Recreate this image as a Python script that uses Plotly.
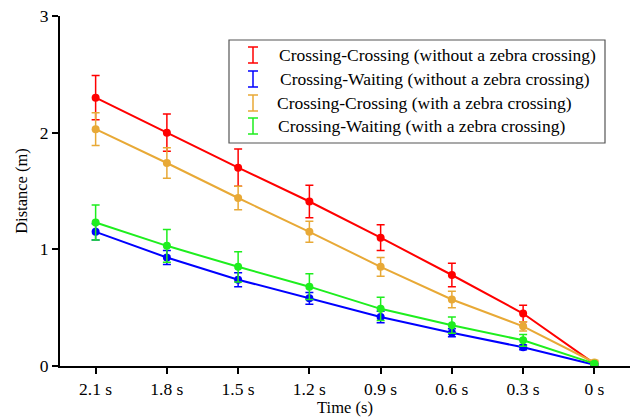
import plotly.graph_objects as go

# Time before the conflict point (categorical x axis)
times = ["2.1 s", "1.8 s", "1.5 s", "1.2 s", "0.9 s", "0.6 s", "0.3 s", "0 s"]

# Mean distance (m) and error (m) for each condition
cc_without = [2.30, 2.00, 1.70, 1.41, 1.10, 0.78, 0.45, 0.02]
cc_without_err = [0.19, 0.16, 0.16, 0.14, 0.11, 0.10, 0.07, 0.02]

cw_without = [1.15, 0.93, 0.74, 0.58, 0.42, 0.285, 0.16, 0.01]
cw_without_err = [0.07, 0.06, 0.06, 0.05, 0.05, 0.035, 0.02, 0.01]

cc_with = [2.03, 1.74, 1.44, 1.15, 0.85, 0.57, 0.34, 0.03]
cc_with_err = [0.14, 0.13, 0.10, 0.09, 0.08, 0.07, 0.04, 0.02]

cw_with = [1.23, 1.03, 0.85, 0.68, 0.49, 0.35, 0.22, 0.02]
cw_with_err = [0.15, 0.14, 0.13, 0.11, 0.10, 0.07, 0.05, 0.01]

names = [
    "Crossing-Crossing (without a zebra crossing)",
    "Crossing-Waiting (without a zebra crossing)",
    "Crossing-Crossing (with a zebra crossing)",
    "Crossing-Waiting (with a zebra crossing)",
]
colors = ["#FF0000", "#0000FF", "#E8A936", "#1EEE1E"]
series = [
    (cc_without, cc_without_err),
    (cw_without, cw_without_err),
    (cc_with, cc_with_err),
    (cw_with, cw_with_err),
]

FONT = "Liberation Serif, Times New Roman, serif"
W, H = 633, 417
ML, MR, MT, MB = 60, 3, 16, 51
PW, PH = W - ML - MR, H - MT - MB

fig = go.Figure()
for (vals, errs), name, col in zip(series, names, colors):
    fig.add_trace(go.Scatter(
        x=times, y=vals, name=name, mode="lines+markers",
        line=dict(color=col, width=2),
        marker=dict(color=col, size=8),
        error_y=dict(type="data", array=errs, visible=True,
                     color=col, thickness=1.5, width=4),
        showlegend=False,
    ))


def px_x(p):
    return (p - ML) / PW


def px_y(p):
    return (H - MB - p) / PH


# Hand-drawn legend box with error-bar glyphs
shapes = [dict(type="rect", xref="paper", yref="paper",
               x0=px_x(229), x1=px_x(605), y0=px_y(143), y1=px_y(40),
               line=dict(color="#555555", width=1.2), fillcolor="white")]
annotations = []
row_y = [55, 79, 103, 126]
text_x = [277, 278, 275, 276]
gx, hw, hh = 253, 5, 8
for ry, tx, name, col in zip(row_y, text_x, names, colors):
    shapes.append(dict(type="line", xref="paper", yref="paper",
                       x0=px_x(gx), x1=px_x(gx), y0=px_y(ry - hh), y1=px_y(ry + hh),
                       line=dict(color=col, width=1.5)))
    for cy in (ry - hh, ry + hh):
        shapes.append(dict(type="line", xref="paper", yref="paper",
                           x0=px_x(gx - hw), x1=px_x(gx + hw), y0=px_y(cy), y1=px_y(cy),
                           line=dict(color=col, width=1.5)))
    annotations.append(dict(xref="paper", yref="paper", x=px_x(tx), y=px_y(ry),
                            text=name, showarrow=False, xanchor="left", yanchor="middle",
                            font=dict(family=FONT, size=17.5, color="black")))

fig.update_layout(
    width=W, height=H,
    margin=dict(l=ML, r=MR, t=MT, b=MB),
    paper_bgcolor="white", plot_bgcolor="white",
    font=dict(family=FONT, size=17, color="black"),
    shapes=shapes, annotations=annotations,
    xaxis=dict(
        type="category", range=[-0.5, 7.5],
        showgrid=False, zeroline=False,
        showline=True, linecolor="black", linewidth=2,
        ticks="outside", ticklen=6, tickwidth=2, tickcolor="black",
        tickfont=dict(family=FONT, size=17.5),
        title=dict(text="Time (s)", font=dict(family=FONT, size=16.5), standoff=2),
    ),
    yaxis=dict(
        range=[0, 3], tickvals=[0, 1, 2, 3],
        showgrid=False, zeroline=False,
        showline=True, linecolor="black", linewidth=2,
        ticks="outside", ticklen=6, tickwidth=2, tickcolor="black",
        tickfont=dict(family=FONT, size=17.5),
        title=dict(text="Distance (m)", font=dict(family=FONT, size=16.5), standoff=8),
    ),
)

fig.write_html("out.html")
